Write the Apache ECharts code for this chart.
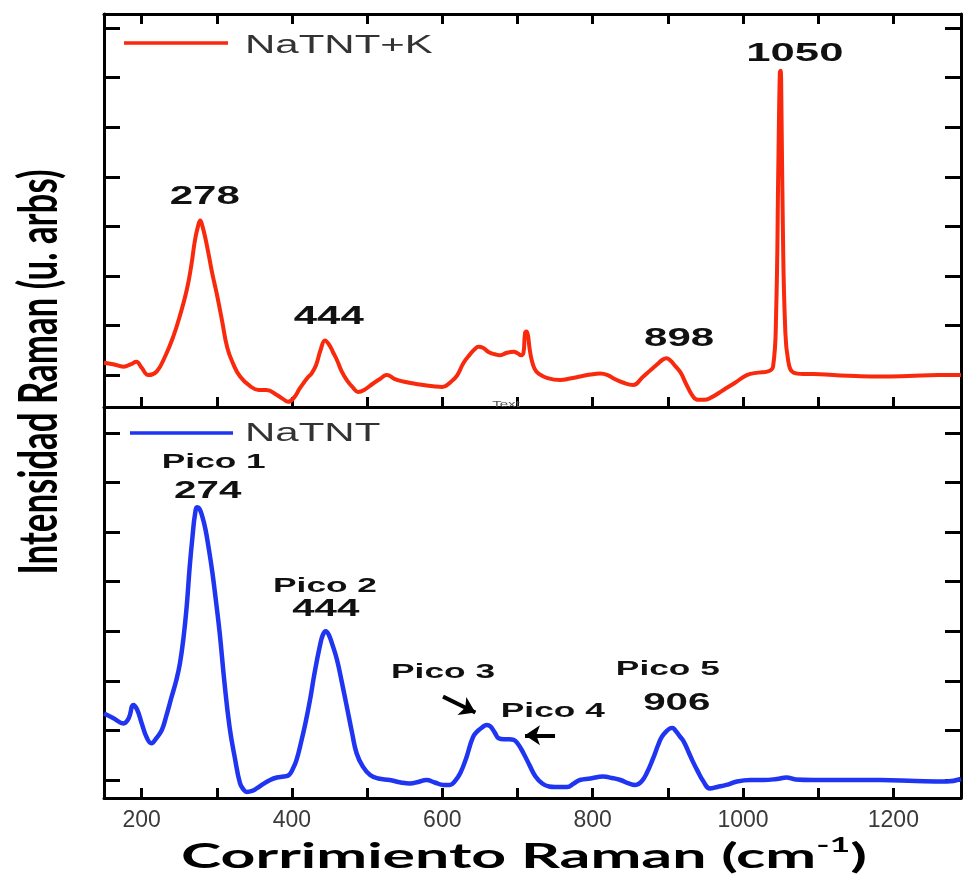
<!DOCTYPE html>
<html>
<head>
<meta charset="utf-8">
<script src="https://cdn.jsdelivr.net/npm/echarts@6/dist/echarts.min.js"></script>
<style>
html,body{margin:0;padding:0;background:#fff;}
#chart{width:964px;height:875px;}
</style>
</head>
<body>
<div id="chart"></div>
<script>
// ---------- DATA ----------
const seriesNames = ['NaTNT+K', 'NaTNT'];

// NaTNT+K (top panel), Raman shift (cm-1) and intensity (arb. units)
const shiftK = [150,162,176,186,193,200,209,220,232,242,251,260,266,271,275,278,281,285,289,294,300,307,314,322,331,344,356,366,380,388,395,403,410,416,421,426,432,438,444,450,455,460,466,473,481,488,496,508,518,526,537,548,562,575,590,600,612,620,628,637,643,648,654,662,670,677,686,695,700,705,708,710,712,714,716,719,723,728,740,757,770,783,797,810,820,828,840,854,866,877,886,893,898,903,910,917,925,934,941,948,958,974,990,1005,1020,1032,1040,1044,1047,1049,1050,1051,1053,1056,1060,1067,1080,1094,1120,1150,1183,1220,1260,1290];
const intensityK = [0.25,0.22,0.17,0.22,0.27,0.15,0.0,0.07,0.4,0.77,1.2,1.71,2.2,2.72,3.0,3.12,3.0,2.75,2.45,2.05,1.64,1.1,0.55,0.22,-0.03,-0.22,-0.3,-0.3,-0.4,-0.48,-0.54,-0.45,-0.28,-0.15,-0.05,0.03,0.2,0.5,0.7,0.6,0.45,0.3,0.08,-0.1,-0.25,-0.34,-0.3,-0.17,-0.07,0.0,-0.08,-0.13,-0.17,-0.2,-0.23,-0.24,-0.13,0.0,0.24,0.42,0.52,0.57,0.55,0.46,0.42,0.4,0.45,0.47,0.44,0.4,0.45,0.84,0.88,0.8,0.55,0.3,0.12,0.03,-0.06,-0.1,-0.07,-0.03,0.01,0.03,0.0,-0.07,-0.15,-0.2,-0.05,0.1,0.22,0.31,0.34,0.3,0.18,0.05,-0.2,-0.44,-0.5,-0.5,-0.45,-0.3,-0.15,0.0,0.05,0.07,0.17,1.2,4.2,6.1,6.14,5.6,3.0,1.0,0.3,0.05,0.02,0.02,0.0,-0.02,-0.03,-0.02,0.0,0.0];

// NaTNT (bottom panel)
const shiftNa = [150,162,176,183,189,194,200,207,213,220,227,233,240,246,251,256,260,264,268,271,274,277,281,285,289,294,299,304,310,317,324,331,336,340,347,353,362,371,380,389,396,402,406,412,418,424,430,437,441,445,449,454,460,466,473,480,486,494,504,515,530,545,557,568,579,590,602,610,617,624,632,641,648,653,659,664,670,675,682,689,695,701,708,716,724,733,742,750,766,775,783,797,814,826,837,848,857,865,872,880,887,892,898,903,906,910,916,921,928,933,939,947,956,966,978,992,1010,1027,1045,1058,1070,1094,1130,1183,1230,1271,1290];
const intensityNa = [1.34,1.25,1.14,1.25,1.51,1.42,1.15,0.85,0.74,0.85,1.01,1.3,1.68,2.0,2.35,2.9,3.5,4.3,4.95,5.35,5.5,5.47,5.3,5.05,4.7,4.2,3.6,2.95,2.0,1.07,0.45,-0.07,-0.2,-0.24,-0.22,-0.17,-0.08,0.0,0.05,0.07,0.1,0.25,0.4,0.75,1.15,1.61,2.15,2.69,2.92,3.0,2.93,2.72,2.42,2.0,1.48,0.95,0.54,0.28,0.1,0.03,0.0,-0.05,-0.07,-0.04,0.0,-0.05,-0.1,-0.1,-0.02,0.14,0.45,0.87,1.0,1.06,1.11,1.08,0.95,0.84,0.82,0.82,0.81,0.72,0.54,0.3,0.07,-0.07,-0.13,-0.14,-0.14,-0.07,0.0,0.03,0.07,0.04,0.0,-0.07,-0.1,-0.03,0.14,0.42,0.7,0.87,0.98,1.04,1.05,1.0,0.88,0.78,0.55,0.38,0.2,-0.02,-0.17,-0.14,-0.1,-0.03,0.0,0.0,0.02,0.05,0.01,0.0,0.0,0.0,-0.02,-0.03,0.02];

// axis ticks / labels
const xTickValues = [200,300,400,500,600,700,800,900,1000,1100,1200];
const xLabelValues = [200,400,600,800,1000,1200];
const yTickValues = [0,1,2,3,4,5,6,7];

// peak annotations: [text, shift, intensity]
const topPeakLabels = [['278',284,3.59],['444',449,1.17],['898',915,0.72],['1050',1069,6.49]];
const bottomPeakNames = [['Pico 1',296,6.40],['Pico 2',444,3.90],['Pico 3',601,2.17],['Pico 4',747,1.38],['Pico 5',900,2.24]];
const bottomPeakValues = [['274',288,5.81],['444',445,3.43],['906',912,1.55]];
// arrows: [[fromShift, fromI], [toShift, toI]]
const arrows = [[[601,1.68],[644,1.36]], [[750,0.9],[710,0.9]]];

// ---------- STYLE ----------
const RED = '#f8290d';
const BLUE = '#1f35f2';
const STRETCH = 1.68;

const chart = echarts.init(document.getElementById('chart'), null, {renderer: 'canvas'});

function zip(a, b) { return a.map((v, i) => [v, b[i]]); }

const axisLineStyle = {color: '#000', width: 3};
function xAx(grid, pos, ticks, labels) {
  return {
    type: 'value', gridIndex: grid, position: pos, min: 150, max: 1290,
    axisLine: {show: true, onZero: false, lineStyle: axisLineStyle},
    axisTick: {show: ticks, inside: true, length: 10, customValues: xTickValues, lineStyle: {color: '#000', width: 3}},
    axisLabel: labels ? {show: true, customValues: xLabelValues, formatter: v => String(v), fontFamily: 'Liberation Sans', fontSize: 23, color: '#3a3a3a', margin: 11} : {show: false},
    splitLine: {show: false}
  };
}
function yAx(grid, pos, min, max) {
  return {
    type: 'value', gridIndex: grid, position: pos, min: min, max: max,
    axisLine: {show: true, onZero: false, lineStyle: axisLineStyle},
    axisTick: {show: true, inside: true, length: 16, customValues: yTickValues, lineStyle: {color: '#000', width: 3}},
    axisLabel: {show: false},
    splitLine: {show: false}
  };
}

chart.setOption({
  animation: false,
  backgroundColor: '#fff',
  grid: [
    {left: 104, right: 3, top: 14, height: 393, outerBoundsMode: 'none'},
    {left: 104, right: 3, top: 407, height: 391, outerBoundsMode: 'none'}
  ],
  xAxis: [
    xAx(0, 'bottom', true, false),
    xAx(0, 'top', true, false),
    xAx(1, 'bottom', true, true)
  ],
  yAxis: [
    yAx(0, 'left', -0.644, 7.284),
    yAx(0, 'right', -0.644, 7.284),
    yAx(1, 'left', -0.363, 7.52),
    yAx(1, 'right', -0.363, 7.52)
  ],
  series: [
    {
      name: seriesNames[0], type: 'line', xAxisIndex: 0, yAxisIndex: 0,
      data: zip(shiftK, intensityK), showSymbol: false, smooth: 0.45,
      lineStyle: {color: RED, width: 4}, itemStyle: {color: RED}, clip: true
    },
    {
      name: seriesNames[1], type: 'line', xAxisIndex: 2, yAxisIndex: 2,
      data: zip(shiftNa, intensityNa), showSymbol: false, smooth: 0.45,
      lineStyle: {color: BLUE, width: 4.5}, itemStyle: {color: BLUE}, clip: true,
      markLine: {
        silent: true, symbol: ['none', 'arrow'], symbolSize: [15, 15],
        lineStyle: {color: '#000', width: 4, type: 'solid'},
        label: {show: false},
        data: arrows.map(a => [{coord: a[0]}, {coord: a[1]}])
      }
    }
  ]
});

// ---------- TEXT (graphic, horizontally stretched like the source) ----------
const measureCtx = document.createElement('canvas').getContext('2d');
function measure(txt, font) { measureCtx.font = font; return measureCtx.measureText(txt).width; }

const graphics = [];
function label(txt, px, size, opts) {
  opts = opts || {};
  graphics.push({
    type: 'text', x: px[0], y: px[1], scaleX: opts.scaleX || STRETCH, silent: true, z: opts.z || 10,
    style: {
      text: txt, fontFamily: opts.family || 'Liberation Sans', fontWeight: opts.weight || 'bold',
      fontSize: size, fill: opts.fill || '#111', align: opts.align || 'center', verticalAlign: 'middle'
    }
  });
}
const topCoord = p => chart.convertToPixel({xAxisIndex: 0, yAxisIndex: 0}, p);
const botCoord = p => chart.convertToPixel({xAxisIndex: 2, yAxisIndex: 2}, p);

topPeakLabels.forEach(l => label(l[0], topCoord([l[1], l[2]]), l[0].length > 3 ? 26 : 25));
bottomPeakNames.forEach(l => label(l[0], botCoord([l[1], l[2]]), 21));
bottomPeakValues.forEach(l => label(l[0], botCoord([l[1], l[2]]), 24));

// legends (one per panel)
graphics.push({type: 'line', silent: true, shape: {x1: 124, y1: 43, x2: 228, y2: 43}, style: {stroke: RED, lineWidth: 3.5}});
label(seriesNames[0], [245, 46], 25, {weight: 'normal', fill: '#333', align: 'left'});
graphics.push({type: 'line', silent: true, shape: {x1: 130, y1: 433, x2: 233, y2: 433}, style: {stroke: BLUE, lineWidth: 3.5}});
label(seriesNames[1], [245, 434], 25, {weight: 'normal', fill: '#333', align: 'left'});

// small stray "Text" mark on the divider
label('Text', [506, 405], 9, {weight: 'normal', fill: '#555', z: 100});

// y-axis title (rotated)
const yTitle = 'Intensidad Raman (u. arbs)';
const yFont = 'bold 32px Lato';
graphics.push({
  type: 'text', x: 40, y: 372, rotation: Math.PI / 2,
  scaleX: 405 / measure(yTitle, yFont), scaleY: STRETCH, silent: true,
  style: {text: yTitle, fontFamily: 'Lato', fontWeight: 'bold', fontSize: 32, fill: '#000', align: 'center', verticalAlign: 'middle'}
});

// x-axis title with superscript
const xw = measure('Corrimiento Raman (cm)', 'bold 34px Lato') + measure('-1', 'bold 20px Lato');
graphics.push({
  type: 'text', x: 524, y: 854, scaleX: 685 / xw, silent: true,
  style: {
    text: '{m|Corrimiento Raman (cm}{s|-1}{m|)}',
    align: 'center', verticalAlign: 'middle',
    rich: {
      m: {fontFamily: 'Lato', fontWeight: 'bold', fontSize: 34, fill: '#000', lineHeight: 40, verticalAlign: 'bottom'},
      s: {fontFamily: 'Lato', fontWeight: 'bold', fontSize: 20, fill: '#000', lineHeight: 40, verticalAlign: 'top', padding: [2, 0, 0, 0]}
    }
  }
});

chart.setOption({graphic: graphics});
</script>
</body>
</html>
